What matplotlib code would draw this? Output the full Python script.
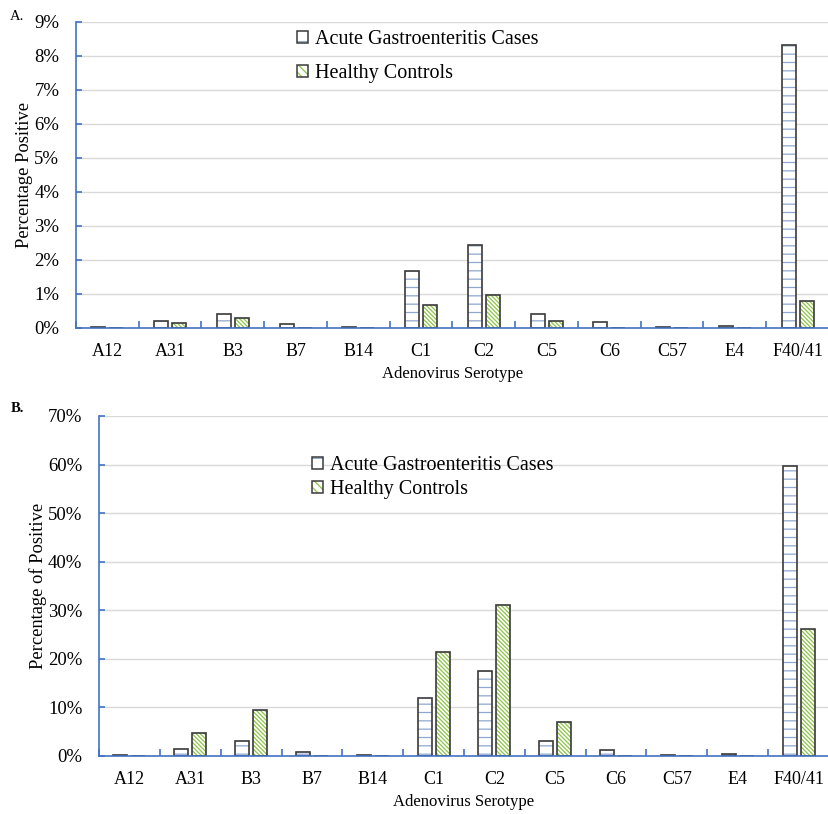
import numpy as np
import matplotlib
matplotlib.use("Agg")
import matplotlib.pyplot as plt
from matplotlib.ticker import FuncFormatter, MultipleLocator
from matplotlib.patches import Patch
from matplotlib.legend_handler import HandlerTuple

plt.rcParams['font.family'] = ['Liberation Serif', 'DejaVu Serif']
plt.rcParams['hatch.linewidth'] = 0.9

# serotypes on the x axis
serotypes = ["A12", "A31", "B3", "B7", "B14", "C1", "C2", "C5", "C6", "C57", "E4", "F40/41"]

# panel A: percentage positive
a_cases = [0.03, 0.20, 0.42, 0.12, 0.03, 1.68, 2.45, 0.40, 0.18, 0.03, 0.06, 8.33]
a_controls = [0.0, 0.15, 0.30, 0.0, 0.0, 0.67, 0.96, 0.22, 0.0, 0.0, 0.0, 0.80]

# panel B: percentage of positive
b_cases = [0.3, 1.5, 3.0, 0.9, 0.3, 12.0, 17.6, 3.0, 1.3, 0.3, 0.5, 59.8]
b_controls = [0.0, 4.8, 9.5, 0.0, 0.0, 21.4, 31.0, 7.1, 0.0, 0.0, 0.0, 26.2]

AXIS_BLUE = "#4472C4"
DASH_BLUE = "#8FA8D0"
GREEN = "#8DC447"
EDGE = "#3A3A3A"
CASE_HATCH = "--"
CTRL_HATCH = "\\" * 8


def draw_panel(ax, cases, controls, ymax, ystep, ylabel, width, off, xright):
    x = np.arange(len(serotypes))
    # hatch layer
    ax.bar(x - off, cases, width, color="white", edgecolor=DASH_BLUE,
           hatch=CASE_HATCH, linewidth=0, zorder=3)
    ax.bar(x + off, controls, width, color="white", edgecolor=GREEN,
           hatch=CTRL_HATCH, linewidth=0, zorder=3)
    # outline layer
    ax.bar(x - off, cases, width, fill=False, edgecolor=EDGE, linewidth=1.2, zorder=4)
    ax.bar(x + off, controls, width, fill=False, edgecolor=EDGE, linewidth=1.2, zorder=4)

    ax.set_xlim(-0.5, xright)
    ax.set_ylim(0, ymax)
    ax.yaxis.set_major_locator(MultipleLocator(ystep))
    ax.yaxis.set_major_formatter(FuncFormatter(lambda v, p: f"{v:.0f}%"))
    ax.grid(axis="y", color="#D9D9D9", linewidth=1.0, zorder=0)
    ax.set_axisbelow(True)

    for s in ["top", "right"]:
        ax.spines[s].set_visible(False)
    for s in ["left", "bottom"]:
        ax.spines[s].set_color(AXIS_BLUE)
        ax.spines[s].set_linewidth(1.2)
        ax.spines[s].set_zorder(5)

    ax.set_xticks(x)
    ax.set_xticklabels(serotypes)
    ax.set_xticks(np.arange(len(serotypes) + 1) - 0.5, minor=True)
    ax.tick_params(axis="x", which="major", length=0, pad=11, labelsize=13)
    ax.tick_params(axis="x", which="minor", direction="in", length=5,
                   color=AXIS_BLUE, width=1.2)
    ax.tick_params(axis="y", direction="in", length=4, color=AXIS_BLUE,
                   width=1.2, pad=12, labelsize=13.5)
    ax.set_xlabel("Adenovirus Serotype", fontsize=12)
    ax.set_ylabel(ylabel, fontsize=13.3)


fig = plt.figure(figsize=(8.29, 8.14), dpi=100)

ax1 = fig.add_axes([76 / 829, 1 - 328 / 814, 753 / 829, 306 / 814])
draw_panel(ax1, a_cases, a_controls, 9, 1, "Percentage Positive",
           0.22, 0.143, 11.44)
ax1.xaxis.labelpad = 4
ax1.yaxis.labelpad = 1

ax2 = fig.add_axes([99 / 829, 1 - 756 / 814, 730 / 829, 340 / 814])
draw_panel(ax2, b_cases, b_controls, 70, 10, "Percentage of Positive",
           0.23, 0.147, 11.42)
ax2.xaxis.labelpad = 4
ax2.yaxis.labelpad = 1


def legend_handles():
    case_h = (Patch(facecolor="white", edgecolor=DASH_BLUE, hatch="-", linewidth=0),
              Patch(fill=False, edgecolor=EDGE, linewidth=1.1))
    ctrl_h = (Patch(facecolor="white", edgecolor=GREEN, hatch="\\\\\\\\", linewidth=0),
              Patch(fill=False, edgecolor=EDGE, linewidth=1.1))
    return [case_h, ctrl_h]


labels = ["Acute Gastroenteritis Cases", "Healthy Controls"]

ax1.legend(legend_handles(), labels, loc="upper left",
           bbox_to_anchor=(211 / 753, 1 + 2 / 306), frameon=False,
           fontsize=14.5, handlelength=0.55, handleheight=0.55,
           handletextpad=0.35, labelspacing=0.74, borderpad=0,
           handler_map={tuple: HandlerTuple(ndivide=1, pad=0)})
ax2.legend(legend_handles(), labels, loc="upper left",
           bbox_to_anchor=(203 / 730, 1 - 30 / 340), frameon=False,
           fontsize=14.5, handlelength=0.55, handleheight=0.55,
           handletextpad=0.35, labelspacing=0.26, borderpad=0,
           handler_map={tuple: HandlerTuple(ndivide=1, pad=0)})

fig.text(10 / 829, 1 - 16 / 814, "A.", fontsize=10.5, va="center")
fig.text(11 / 829, 1 - 409 / 814, "B.", fontsize=10.5, fontweight="bold", va="center")

fig.savefig("out.png", dpi=100)
